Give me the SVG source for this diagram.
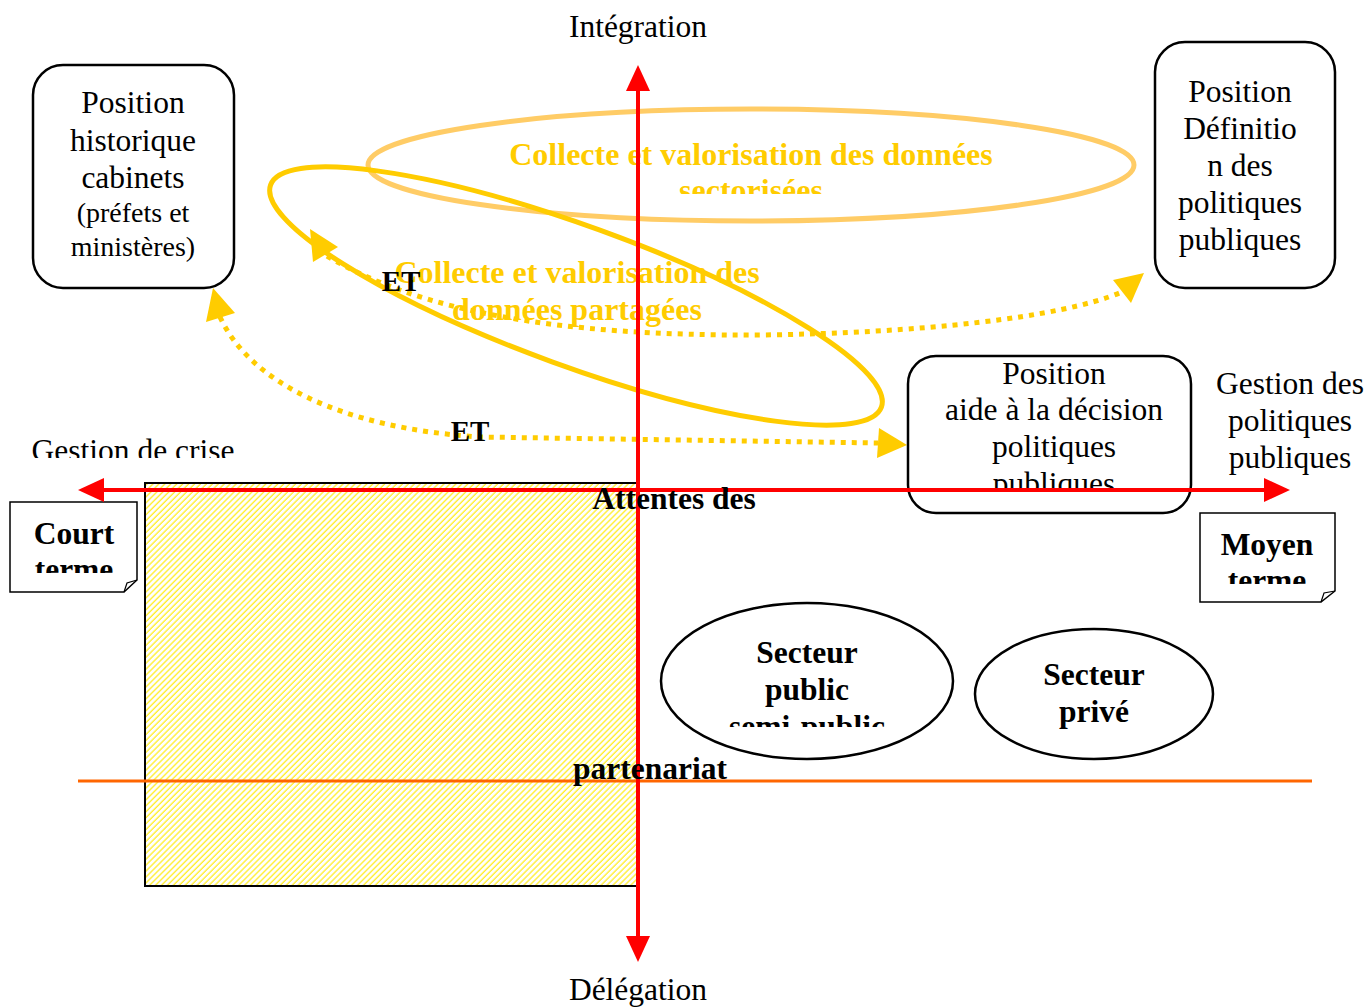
<svg xmlns="http://www.w3.org/2000/svg" width="1369" height="1008" viewBox="0 0 1369 1008">
<style>
.t{font-family:"Liberation Serif","Times New Roman",serif;font-size:31.5px;fill:#000;text-anchor:middle}
.b{font-weight:bold}
.y{fill:#FFCC00;font-size:32px}
.box{fill:#fff;stroke:#000;stroke-width:2.5}
.axis{stroke:#FF0000;stroke-width:4;fill:none}
.dot{fill:none;stroke:#FFCC00;stroke-width:5;stroke-dasharray:5 6}
</style>
<defs>
<pattern id="hatch" width="4.2" height="10" patternUnits="userSpaceOnUse" patternTransform="rotate(45)">
<rect width="4.2" height="10" fill="#fff"/>
<line x1="1" y1="0" x2="1" y2="10" stroke="#FFEE33" stroke-width="1.4"/>
</pattern>
<clipPath id="cGest"><rect x="0" y="400" width="300" height="58"/></clipPath>
<clipPath id="cCourt"><rect x="10" y="502" width="127" height="71"/></clipPath>
<clipPath id="cMoyen"><rect x="1200" y="513" width="135" height="71"/></clipPath>
<clipPath id="cSect"><rect x="300" y="120" width="800" height="74"/></clipPath>
<clipPath id="cSemi"><rect x="660" y="600" width="300" height="127"/></clipPath>
<clipPath id="cPub"><rect x="908" y="356" width="283" height="136"/></clipPath>
<clipPath id="cAtt"><rect x="560" y="470" width="240" height="54"/></clipPath>
</defs>

<!-- hatched zone -->
<rect x="145" y="483" width="493" height="403" fill="url(#hatch)" stroke="#000" stroke-width="2"/>

<!-- connectors / axes -->
<g id="connectors">
<line x1="78" y1="781" x2="1312" y2="781" stroke="#FF6600" stroke-width="3"/>
<ellipse cx="751" cy="165" rx="383" ry="56" fill="none" stroke="#FFCC66" stroke-width="5"/>
<ellipse cx="576" cy="296" rx="325" ry="70" transform="rotate(20 576 296)" fill="none" stroke="#FFCC00" stroke-width="5"/>
<path class="dot" d="M220,317 C250,382 340,428 480,437 L878,443"/>
<polygon points="213,288 235,313 206,322" fill="#FFCC00"/>
<polygon points="907,445 879,428 877,458" fill="#FFCC00"/>
<path class="dot" d="M327,256 C420,312 560,336 760,335 C920,333 1060,318 1122,292"/>
<polygon points="310,229 338,247 313,262" fill="#FFCC00"/>
<polygon points="1144,273 1113,280 1131,303" fill="#FFCC00"/>
</g>

<!-- texts in ellipses -->
<g id="sectorise">
<text class="t b y" x="751" y="165">Collecte et valorisation des données</text>
<text class="t b y" x="751" y="201" clip-path="url(#cSect)">sectorisées</text>
</g>
<g id="partage">
<text class="t b y" x="577" y="283">Collecte et valorisation des</text>
<text class="t b y" x="577" y="320">données partagées</text>
</g>
<text class="t b" x="401" y="291" style="font-size:29px">ET</text>
<text class="t b" x="470" y="441" style="font-size:29px">ET</text>

<!-- nodes -->
<g id="n-historique">
<rect class="box" x="33" y="65" width="201" height="223" rx="30"/>
<text class="t" x="133" y="113">Position</text>
<text class="t" x="133" y="151">historique</text>
<text class="t" x="133" y="188">cabinets</text>
<text class="t" x="133" y="222" style="font-size:28px">(préfets et</text>
<text class="t" x="133" y="256" style="font-size:28px">ministères)</text>
</g>
<g id="n-definition">
<rect class="box" x="1155" y="42" width="180" height="246" rx="30"/>
<text class="t" x="1240" y="102">Position</text>
<text class="t" x="1240" y="139">Définitio</text>
<text class="t" x="1240" y="176">n des</text>
<text class="t" x="1240" y="213">politiques</text>
<text class="t" x="1240" y="250">publiques</text>
</g>
<g id="n-aide">
<rect class="box" x="908" y="356" width="283" height="157" rx="28"/>
<text class="t" x="1054" y="384">Position</text>
<text class="t" x="1054" y="420">aide à la décision</text>
<text class="t" x="1054" y="457">politiques</text>
<text class="t" x="1054" y="494" clip-path="url(#cPub)">publiques</text>
</g>
<g id="n-public">
<ellipse cx="807" cy="681" rx="146" ry="78" fill="#fff" stroke="#000" stroke-width="2.5"/>
<text class="t b" x="807" y="663">Secteur</text>
<text class="t b" x="807" y="700">public</text>
<text class="t b" x="807" y="737" clip-path="url(#cSemi)">semi-public</text>
</g>
<g id="n-prive">
<ellipse cx="1094" cy="694" rx="119" ry="65" fill="#fff" stroke="#000" stroke-width="2.5"/>
<text class="t b" x="1094" y="685">Secteur</text>
<text class="t b" x="1094" y="722">privé</text>
</g>
<g id="n-court">
<path d="M10,502 H137 V580 L124,592 H10 Z" fill="#fff" stroke="#000" stroke-width="1.5"/>
<path d="M124,592 L127,583 L137,580" fill="none" stroke="#000" stroke-width="1.2"/>
<text class="t b" x="74" y="544" clip-path="url(#cCourt)">Court</text>
<text class="t b" x="74" y="580" clip-path="url(#cCourt)">terme</text>
</g>
<g id="n-moyen">
<path d="M1200,513 H1335 V591 L1321,602 H1200 Z" fill="#fff" stroke="#000" stroke-width="1.5"/>
<path d="M1321,602 L1324,593 L1335,591" fill="none" stroke="#000" stroke-width="1.2"/>
<text class="t b" x="1267" y="555" clip-path="url(#cMoyen)">Moyen</text>
<text class="t b" x="1267" y="591" clip-path="url(#cMoyen)">terme</text>
</g>

<!-- axes on top -->
<g id="axes">
<line class="axis" x1="638" y1="88" x2="638" y2="940"/>
<polygon points="638,65 626,91 650,91" fill="#FF0000"/>
<polygon points="638,962 626,936 650,936" fill="#FF0000"/>
<line class="axis" x1="100" y1="490" x2="1268" y2="490"/>
<polygon points="78,490 104,478 104,502" fill="#FF0000"/>
<polygon points="1290,490 1264,478 1264,502" fill="#FF0000"/>
</g>

<!-- labels -->
<text class="t" x="638" y="37">Intégration</text>
<text class="t" x="638" y="1000">Délégation</text>
<text class="t" x="1290" y="394">Gestion des</text>
<text class="t" x="1290" y="431">politiques</text>
<text class="t" x="1290" y="468">publiques</text>
<text class="t" x="133" y="461" clip-path="url(#cGest)">Gestion de crise</text>
<text class="t b" x="674" y="509" clip-path="url(#cAtt)">Attentes des</text>
<text class="t b" x="650" y="779">partenariat</text>
</svg>
